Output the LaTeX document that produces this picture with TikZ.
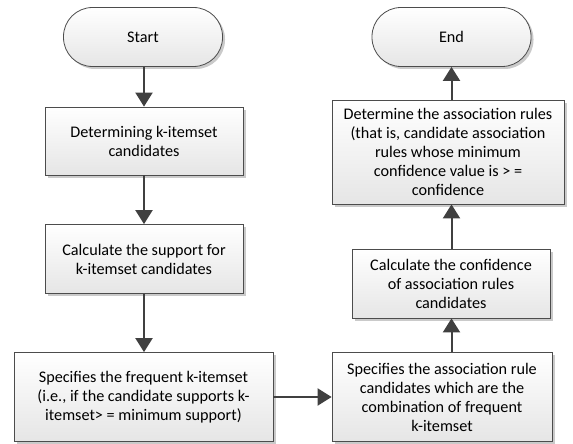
\documentclass[tikz,border=0pt]{standalone}
\usepackage{fontspec}
\setmainfont{Carlito}
\usetikzlibrary{arrows.meta,shadows}
\begin{document}
\begin{tikzpicture}[x=1pt,y=-1pt,
  base/.style={draw=black!70, line width=0.8pt, top color=white, bottom color=black!10,
    drop shadow={shadow xshift=2.5pt, shadow yshift=-2.5pt, fill=black!35, opacity=0.6},
    align=center, inner sep=2pt,
    font=\fontsize{16.2}{19}\selectfont},
  procbox/.style={base},
  term/.style={base, rounded corners=29pt, minimum width=159pt, minimum height=59pt},
  flow/.style={draw=black!75, line width=2pt, -{Triangle[width=17pt,length=14pt]}}
]
\useasboundingbox (0,0) rectangle (573,444);

\node[term] (start) at (143,37) {Start};
\node[term] (end) at (451.5,37) {End};

\node[procbox, minimum width=198pt, minimum height=68pt] (b1) at (144,141)
  {Determining k-itemset\\candidates};
\node[procbox, minimum width=198pt, minimum height=69pt] (b2) at (144,259)
  {Calculate the support for\\k-itemset candidates};
\node[procbox, minimum width=259pt, minimum height=89pt] (b3) at (143.5,397)
  {Specifies the frequent k-itemset\\(i.e., if the candidate supports k-\\itemset> = minimum support)};
\node[procbox, minimum width=220pt, minimum height=89pt] (b4) at (442,397)
  {Specifies the association rule\\candidates which are the\\combination of frequent\\k-itemset};
\node[procbox, minimum width=198pt, minimum height=69pt] (b5) at (451,283.5)
  {Calculate the confidence\\of association rules\\candidates};
\node[procbox, minimum width=232pt, minimum height=104pt] (b6) at (448,152)
  {Determine the association rules\\(that is, candidate association\\rules whose minimum\\confidence value is > =\\confidence};

\draw[flow] (start.south -| b1) -- (b1.north);
\draw[flow] (b1.south) -- (b2.north);
\draw[flow] (b2.south) -- (b2.south |- b3.north);
\draw[flow] (b3.east) -- (b4.west);
\draw[flow] (b4.north -| end) -- (b5.south -| end);
\draw[flow] (b5.north -| end) -- (b6.south -| end);
\draw[flow] (b6.north -| end) -- (end.south);
\end{tikzpicture}
\end{document}
